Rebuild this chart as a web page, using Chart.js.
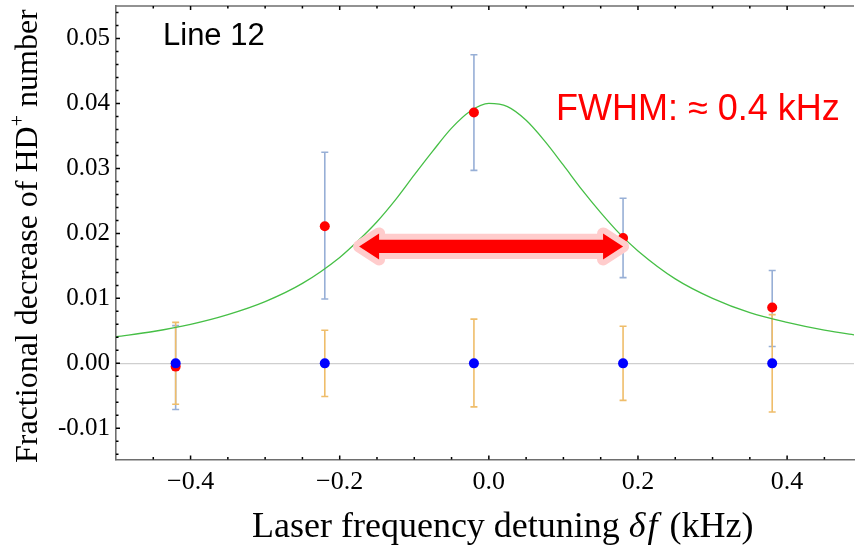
<!DOCTYPE html>
<html>
<head>
<meta charset="utf-8">
<script src="https://cdn.jsdelivr.net/npm/chart.js@4.4.1/dist/chart.umd.min.js"></script>
<style>
  html, body { margin: 0; padding: 0; background: #fff; }
  #wrap { width: 859px; height: 545px; position: relative; }
</style>
</head>
<body>
<div id="wrap"><canvas id="c"></canvas></div>
<script>
// laser detuning of the measured points (kHz)
const detuning = [-0.42, -0.22, -0.02, 0.18, 0.38];

// red points: fractional decrease with laser on, and their error bars
const signal   = [-0.0005, 0.0211, 0.0386, 0.0193, 0.0086];
const signalLo = [-0.0071, 0.0099, 0.0297, 0.0132, 0.0026];
const signalHi = [ 0.0058, 0.0325, 0.0475, 0.0254, 0.0143];

// blue points: reference, and their error bars
const reference   = [0, 0, 0, 0, 0];
const referenceLo = [-0.0063, -0.0051, -0.0067, -0.0057, -0.0075];
const referenceHi = [ 0.0063,  0.0051,  0.0068,  0.0057,  0.0075];

// green fitted line
const fitX = [-0.5, -0.45, -0.4, -0.35, -0.3, -0.25, -0.2, -0.175, -0.15, -0.125, -0.1, -0.075, -0.05, -0.025,
              0, 0.025, 0.05, 0.075, 0.1, 0.125, 0.15, 0.175, 0.2, 0.25, 0.3, 0.35, 0.4, 0.45, 0.5];
const fitY = [0.0041, 0.0049, 0.0060, 0.0075, 0.0095, 0.0123, 0.0163, 0.0189, 0.0218, 0.0252, 0.0290, 0.0327, 0.0362, 0.0388,
              0.0400, 0.0395, 0.0374, 0.0342, 0.0305, 0.0267, 0.0232, 0.0200, 0.0173, 0.0130, 0.0100, 0.0078, 0.0063, 0.0051, 0.0042];

// FWHM arrow, in data units
const arrowFrom = -0.174;
const arrowTo = 0.18;
const arrowY = 0.018;

const xRange = [-0.5, 0.4897];
const yRange = [-0.0148, 0.055];

const axisColor = '#6e6e6e';
const serif = '"Liberation Serif", "Times New Roman", serif';
const sans = '"Liberation Sans", Arial, sans-serif';

const pts = (xs, ys) => xs.map((x, i) => ({ x, y: ys[i] }));

function errorBars(ctx, sx, sy, lo, hi, color) {
  ctx.save();
  ctx.strokeStyle = color;
  ctx.lineWidth = 1.6;
  detuning.forEach((v, i) => {
    const px = sx.getPixelForValue(v);
    const top = sy.getPixelForValue(hi[i]);
    const bot = sy.getPixelForValue(lo[i]);
    ctx.beginPath();
    ctx.moveTo(px, top); ctx.lineTo(px, bot);
    ctx.moveTo(px - 3.5, top); ctx.lineTo(px + 3.5, top);
    ctx.moveTo(px - 3.5, bot); ctx.lineTo(px + 3.5, bot);
    ctx.stroke();
  });
  ctx.restore();
}

function inwardTicks(ctx, chart) {
  const { left, right, top, bottom } = chart.chartArea;
  const sx = chart.scales.x, sy = chart.scales.y;
  ctx.save();
  ctx.strokeStyle = axisColor;
  ctx.lineWidth = 1.6;
  ctx.beginPath();
  ctx.moveTo(left, top); ctx.lineTo(right, top);
  ctx.stroke();
  ctx.strokeStyle = '#000';
  ctx.lineWidth = 1.5;
  ctx.beginPath();
  for (let k = -10; k <= 10; k++) {
    const v = k * 0.05;
    if (v < xRange[0] + 1e-9 || v > xRange[1]) continue;
    const len = k % 4 === 0 ? 4 : 2.5;
    const px = sx.getPixelForValue(v);
    ctx.moveTo(px, bottom); ctx.lineTo(px, bottom - len);
    ctx.moveTo(px, top); ctx.lineTo(px, top + len);
  }
  for (let k = -7; k <= 27; k++) {
    const v = k * 0.002;
    const len = k % 5 === 0 ? 4 : 2.5;
    const py = sy.getPixelForValue(v);
    ctx.moveTo(left, py); ctx.lineTo(left + len, py);
  }
  ctx.stroke();
  ctx.restore();
}

function drawArrow(ctx, sx, sy) {
  const x1 = sx.getPixelForValue(arrowFrom);
  const x2 = sx.getPixelForValue(arrowTo);
  const yc = sy.getPixelForValue(arrowY);
  const shaft = 6.7, head = 13, headLen = 20;
  ctx.save();
  ctx.beginPath();
  ctx.moveTo(x1, yc);
  ctx.lineTo(x1 + headLen, yc - head);
  ctx.lineTo(x1 + headLen, yc - shaft);
  ctx.lineTo(x2 - headLen, yc - shaft);
  ctx.lineTo(x2 - headLen, yc - head);
  ctx.lineTo(x2, yc);
  ctx.lineTo(x2 - headLen, yc + head);
  ctx.lineTo(x2 - headLen, yc + shaft);
  ctx.lineTo(x1 + headLen, yc + shaft);
  ctx.lineTo(x1 + headLen, yc + head);
  ctx.closePath();
  ctx.lineJoin = 'round';
  ctx.lineWidth = 12;
  ctx.strokeStyle = '#ffcccc';
  ctx.stroke();
  ctx.fillStyle = '#ff0000';
  ctx.fill();
  ctx.restore();
}

function drawTitles(ctx) {
  ctx.save();
  ctx.fillStyle = '#000';
  ctx.textBaseline = 'alphabetic';

  // x title: "Laser frequency detuning δf (kHz)"
  const parts = [
    ['Laser frequency detuning ', '36px ' + serif, 0],
    ['\u03b4', 'italic 36px ' + serif, 2],
    ['f', 'italic 36px ' + serif, 3],
    [' (kHz)', '36px ' + serif, 0]
  ];
  let x = 252;
  for (const [t, f, gap] of parts) {
    ctx.font = f;
    ctx.fillText(t, x, 537);
    x += ctx.measureText(t).width + gap;
  }

  // y title, rotated
  ctx.translate(37, 463);
  ctx.rotate(-Math.PI / 2);
  ctx.font = '32px ' + serif;
  let y = 0;
  ctx.fillText('Fractional decrease of HD', y, 0);
  y += ctx.measureText('Fractional decrease of HD').width;
  ctx.font = '20px ' + serif;
  ctx.fillText('+', y, -13);
  y += ctx.measureText('+').width;
  ctx.font = '32px ' + serif;
  ctx.fillText(' number', y, 0);
  ctx.restore();

  ctx.save();
  ctx.font = '31px ' + sans;
  ctx.fillStyle = '#000';
  ctx.fillText('Line 12', 163, 45);
  ctx.font = '36px ' + sans;
  ctx.fillStyle = '#ff0000';
  ctx.fillText('FWHM: \u2248 0.4 kHz', 556, 120);
  ctx.restore();
}

const decor = {
  id: 'decor',
  beforeDatasetsDraw(chart) {
    const ctx = chart.ctx, sx = chart.scales.x, sy = chart.scales.y;
    errorBars(ctx, sx, sy, signalLo, signalHi, '#97afd6');
    errorBars(ctx, sx, sy, referenceLo, referenceHi, '#efbd6a');
  },
  afterDatasetsDraw(chart) {
    drawArrow(chart.ctx, chart.scales.x, chart.scales.y);
  },
  afterDraw(chart) {
    inwardTicks(chart.ctx, chart);
    drawTitles(chart.ctx);
  }
};

new Chart(document.getElementById('c'), {
  type: 'scatter',
  data: {
    datasets: [
      { label: 'reference', data: pts(detuning, reference), backgroundColor: '#0000ff', borderWidth: 0, pointRadius: 5 },
      { label: 'signal', data: pts(detuning, signal), backgroundColor: '#ff0000', borderWidth: 0, pointRadius: 5 },
      { label: 'fit', data: pts(fitX, fitY), showLine: true, borderColor: '#46bf46', borderWidth: 1.3,
        pointRadius: 0, cubicInterpolationMode: 'monotone' }
    ]
  },
  options: {
    responsive: true,
    maintainAspectRatio: false,
    devicePixelRatio: 1,
    animation: false,
    events: [],
    layout: { padding: { top: 6, right: 0, bottom: 0, left: 0 } },
    plugins: { legend: { display: false }, tooltip: { enabled: false } },
    scales: {
      x: {
        type: 'linear',
        min: xRange[0],
        max: xRange[1],
        grid: { display: false, drawTicks: false },
        border: { display: true, color: axisColor, width: 1.6 },
        ticks: {
          stepSize: 0.2,
          includeBounds: false,
          autoSkip: false,
          maxRotation: 0,
          padding: 7,
          color: '#000',
          font: { family: serif, size: 26 },
          callback: v => (Math.abs(v) < 1e-9 ? 0 : v).toFixed(1).replace('-', '\u2212')
        },
        afterFit(s) { s.height = 85.5; s.paddingLeft = 0; s.paddingRight = 0; }
      },
      y: {
        type: 'linear',
        min: yRange[0],
        max: yRange[1],
        grid: {
          drawTicks: false,
          lineWidth: 1.2,
          color: c => (c.tick && Math.abs(c.tick.value) < 1e-9 ? '#cfcfcf' : 'rgba(0,0,0,0)')
        },
        border: { display: true, color: axisColor, width: 1.6 },
        ticks: {
          stepSize: 0.01,
          includeBounds: false,
          padding: 6,
          color: '#000',
          font: { family: serif, size: 25 },
          callback: v => (Math.abs(v) < 1e-9 ? 0 : v).toFixed(2)
        },
        afterFit(s) { s.width = 116; s.paddingTop = 0; s.paddingBottom = 0; }
      }
    }
  },
  plugins: [decor]
});
</script>
</body>
</html>
